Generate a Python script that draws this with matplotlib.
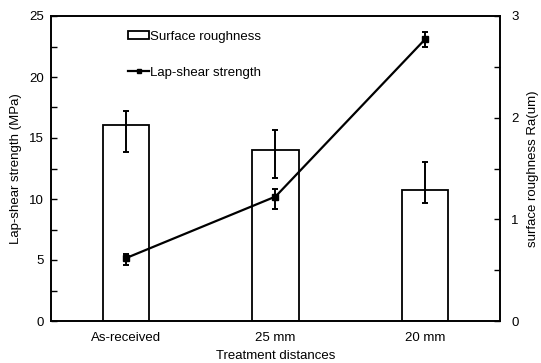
import matplotlib
matplotlib.use("Agg")
import matplotlib.pyplot as plt
from matplotlib.ticker import MultipleLocator
from matplotlib.patches import Patch
from matplotlib.lines import Line2D
import numpy as np

plt.rcParams['font.family'] = ['Liberation Sans', 'DejaVu Sans']

categories = ["As-received", "25 mm", "20 mm"]

# Lap-shear strength (MPa), left axis
strength = [5.15, 10.2, 23.1]
strength_err_low = [0.55, 1.0, 0.6]
strength_err_high = [0.35, 0.6, 0.55]

# Surface roughness Ra (um), right axis
roughness = [1.93, 1.68, 1.29]
roughness_err_low = [0.27, 0.27, 0.13]
roughness_err_high = [0.14, 0.20, 0.27]

fig = plt.figure(figsize=(5.41, 3.63), dpi=100)
ax = fig.add_axes([51 / 541, 1 - 321 / 363, 449 / 541, 305 / 363])
ax2 = ax.twinx()

x = np.arange(len(categories))

ax2.bar(x, roughness, width=0.31, color="white", edgecolor="black", linewidth=1.3, zorder=2)
ax2.errorbar(x, roughness, yerr=[roughness_err_low, roughness_err_high], fmt="none",
             ecolor="black", elinewidth=1.4, capsize=2.5, capthick=1.4, zorder=3)
ax2.set_ylim(0, 3)
ax2.yaxis.set_major_locator(MultipleLocator(1))
ax2.yaxis.set_minor_locator(MultipleLocator(0.5))
ax2.set_ylabel("surface roughness Ra(um)", fontsize=9.5, labelpad=6)

# draw strength line above the bars
ax.set_zorder(ax2.get_zorder() + 1)
ax.patch.set_visible(False)
ax.errorbar(x, strength, yerr=[strength_err_low, strength_err_high], fmt="-s",
            color="black", linewidth=1.6, markersize=4, elinewidth=1.4,
            capsize=2.5, capthick=1.4, zorder=4)
ax.set_ylim(0, 25)
ax.set_xlim(-0.5, 2.5)
ax.yaxis.set_major_locator(MultipleLocator(5))
ax.yaxis.set_minor_locator(MultipleLocator(2.5))
ax.set_xticks(x)
ax.set_xticklabels(categories)
ax.set_ylabel("Lap-shear strength (MPa)", fontsize=9.5, labelpad=5)
ax.set_xlabel("Treatment distances", fontsize=9.5, labelpad=4)

for a in (ax, ax2):
    for s in a.spines.values():
        s.set_linewidth(1.2)
    a.tick_params(axis="y", which="major", direction="in", length=4, width=1, labelsize=9.5)
    a.tick_params(axis="y", which="minor", direction="in", length=4, width=1)
ax.tick_params(axis="y", which="major", pad=5)
ax2.tick_params(axis="y", which="major", pad=8)
ax.tick_params(axis="x", length=0, labelsize=9.5, pad=8)

handles = [Patch(facecolor="white", edgecolor="black", linewidth=1.3),
           Line2D([0], [0], color="black", marker="s", markersize=3, linewidth=1.6)]
ax.legend(handles, ["Surface roughness", "Lap-shear strength"], loc="upper left",
          bbox_to_anchor=(0.145, 0.99), frameon=False, fontsize=9.5,
          handlelength=1.6, handleheight=0.6, handletextpad=0.1, labelspacing=1.8)

fig.savefig("out.png", dpi=100)
